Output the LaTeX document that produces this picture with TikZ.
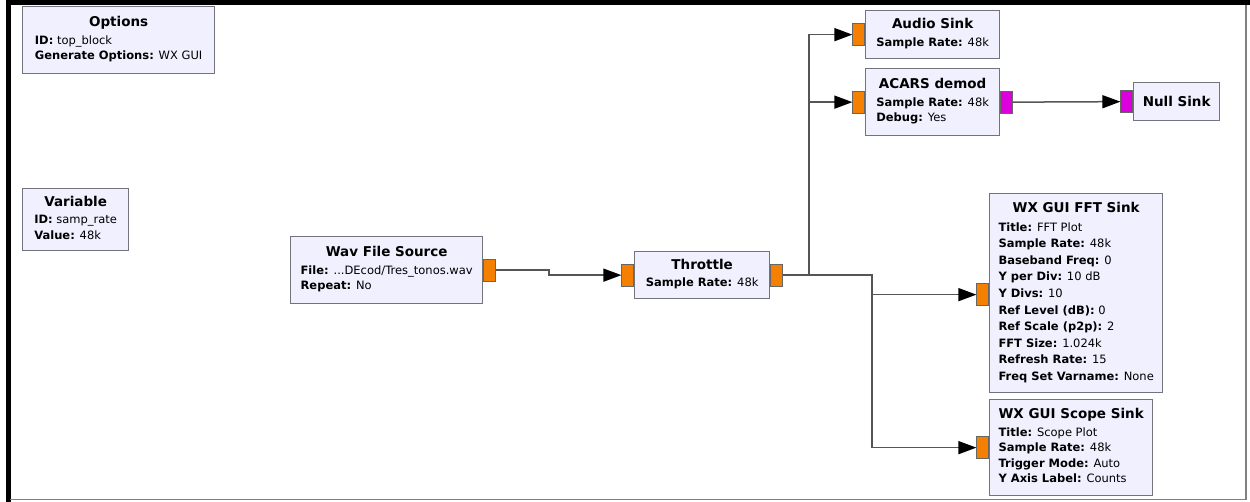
\documentclass[tikz,border=0pt]{standalone}
\usepackage{fontspec}
\setmainfont{DejaVu Sans}
\usepackage{tikz}
\usetikzlibrary{arrows.meta,calc}
\usepackage{xcolor}

\definecolor{blockfill}{RGB}{240,240,255}
\definecolor{blockedge}{RGB}{115,115,125}
\definecolor{portorange}{RGB}{245,128,0}
\definecolor{portmagenta}{RGB}{220,0,220}
\definecolor{wire}{RGB}{85,85,85}

\newcommand\titlefont{\fontsize{13.5}{15.5}\selectfont\bfseries}
\newcommand\prm[2]{\textbf{#1:} #2}
\newcommand\blocktext[2]{\begin{tabular}{@{}l@{}}\multicolumn{1}{@{}c@{}}{\titlefont #1}\\[2pt] #2\end{tabular}}

\begin{document}
\begin{tikzpicture}[
  x=1pt, y=-1pt,
  block/.style={draw=blockedge, fill=blockfill, line width=1.3pt, inner sep=0pt,
    anchor=north west, minimum width=#1, font=\fontsize{11.5}{15.5}\selectfont},
  port/.style={draw=black!60, line width=0.6pt, fill=portorange, inner sep=0pt,
    minimum width=12pt, minimum height=22pt},
  msgport/.style={port, fill=portmagenta},
  conn/.style={draw=wire, line width=1.5pt, -{Triangle[length=18pt,width=13pt,black]}},
]
\useasboundingbox (0,0) rectangle (1250,502);

% --- window frame ---
\draw[line width=5pt, black] (8,502) -- (8,2.5) -- (1250,2.5);
\draw[line width=1.5pt, gray] (1246,5) -- (1246,499.5) -- (10,499.5);

% --- variables ---
\node[block=192pt, minimum height=67pt] (opts) at (22,6)
  {\blocktext{Options}{\prm{ID}{top\_block}\\ \prm{Generate Options}{WX GUI}}};
\node[block=106pt, minimum height=62pt] (var) at (22,188)
  {\blocktext{Variable}{\prm{ID}{samp\_rate}\\ \prm{Value}{48k}}};

% --- source and throttle ---
\node[block=192pt, minimum height=67pt] (wav) at (290,236)
  {\blocktext{Wav File Source}{\prm{File}{...DEcod/Tres\_tonos.wav}\\ \prm{Repeat}{No}}};
\node[port, anchor=west] (wav-out) at (wav.east) {};

\node[block=135pt, minimum height=47pt] (thr) at (634,251)
  {\blocktext{Throttle}{\prm{Sample Rate}{48k}}};
\node[port, anchor=east] (thr-in) at (thr.west) {};
\node[port, anchor=west] (thr-out) at (thr.east) {};

% --- sinks ---
\node[block=134pt, minimum height=48pt] (aud) at (865,10)
  {\blocktext{Audio Sink}{\prm{Sample Rate}{48k}}};
\node[port, anchor=east] (aud-in) at (aud.west) {};

\node[block=134pt, minimum height=67pt] (acars) at (865,68)
  {\blocktext{ACARS demod}{\prm{Sample Rate}{48k}\\ \prm{Debug}{Yes}}};
\node[port, anchor=east] (acars-in) at (acars.west) {};
\node[msgport, anchor=west] (acars-out) at (acars.east) {};

\node[block=86pt, minimum height=38pt] (null) at (1133,82) {\titlefont Null Sink};
\node[msgport, anchor=east] (null-in) at (null.west) {};

\node[block=173pt, minimum height=199pt] (fft) at (989,193)
  {\renewcommand\arraystretch{1.07}%
   \blocktext{WX GUI FFT Sink}{\prm{Title}{FFT Plot}\\ \prm{Sample Rate}{48k}\\
   \prm{Baseband Freq}{0}\\ \prm{Y per Div}{10 dB}\\ \prm{Y Divs}{10}\\
   \prm{Ref Level (dB)}{0}\\ \prm{Ref Scale (p2p)}{2}\\ \prm{FFT Size}{1.024k}\\
   \prm{Refresh Rate}{15}\\ \prm{Freq Set Varname}{None}}};
\node[port, anchor=east] (fft-in) at ($(fft.west)+(0,1.5)$) {};

\node[block=163pt, minimum height=96pt] (scope) at (989,399)
  {\blocktext{WX GUI Scope Sink}{\prm{Title}{Scope Plot}\\ \prm{Sample Rate}{48k}\\
   \prm{Trigger Mode}{Auto}\\ \prm{Y Axis Label}{Counts}}};
\node[port, anchor=east] (scope-in) at (scope.west) {};

% --- connections ---
\draw[conn] (wav-out.east) -- ++(53,0) |- (thr-in.west);
\draw[conn] (thr-out.east) -- ++(26,0) |- (aud-in.west);
\draw[conn] (thr-out.east) -- ++(26,0) |- (acars-in.west);
\draw[conn] (thr-out.east) -- ++(89,0) |- (fft-in.west);
\draw[conn] (thr-out.east) -- ++(89,0) |- (scope-in.west);
\draw[conn] (acars-out.east) -- (null-in.west);
\end{tikzpicture}
\end{document}
